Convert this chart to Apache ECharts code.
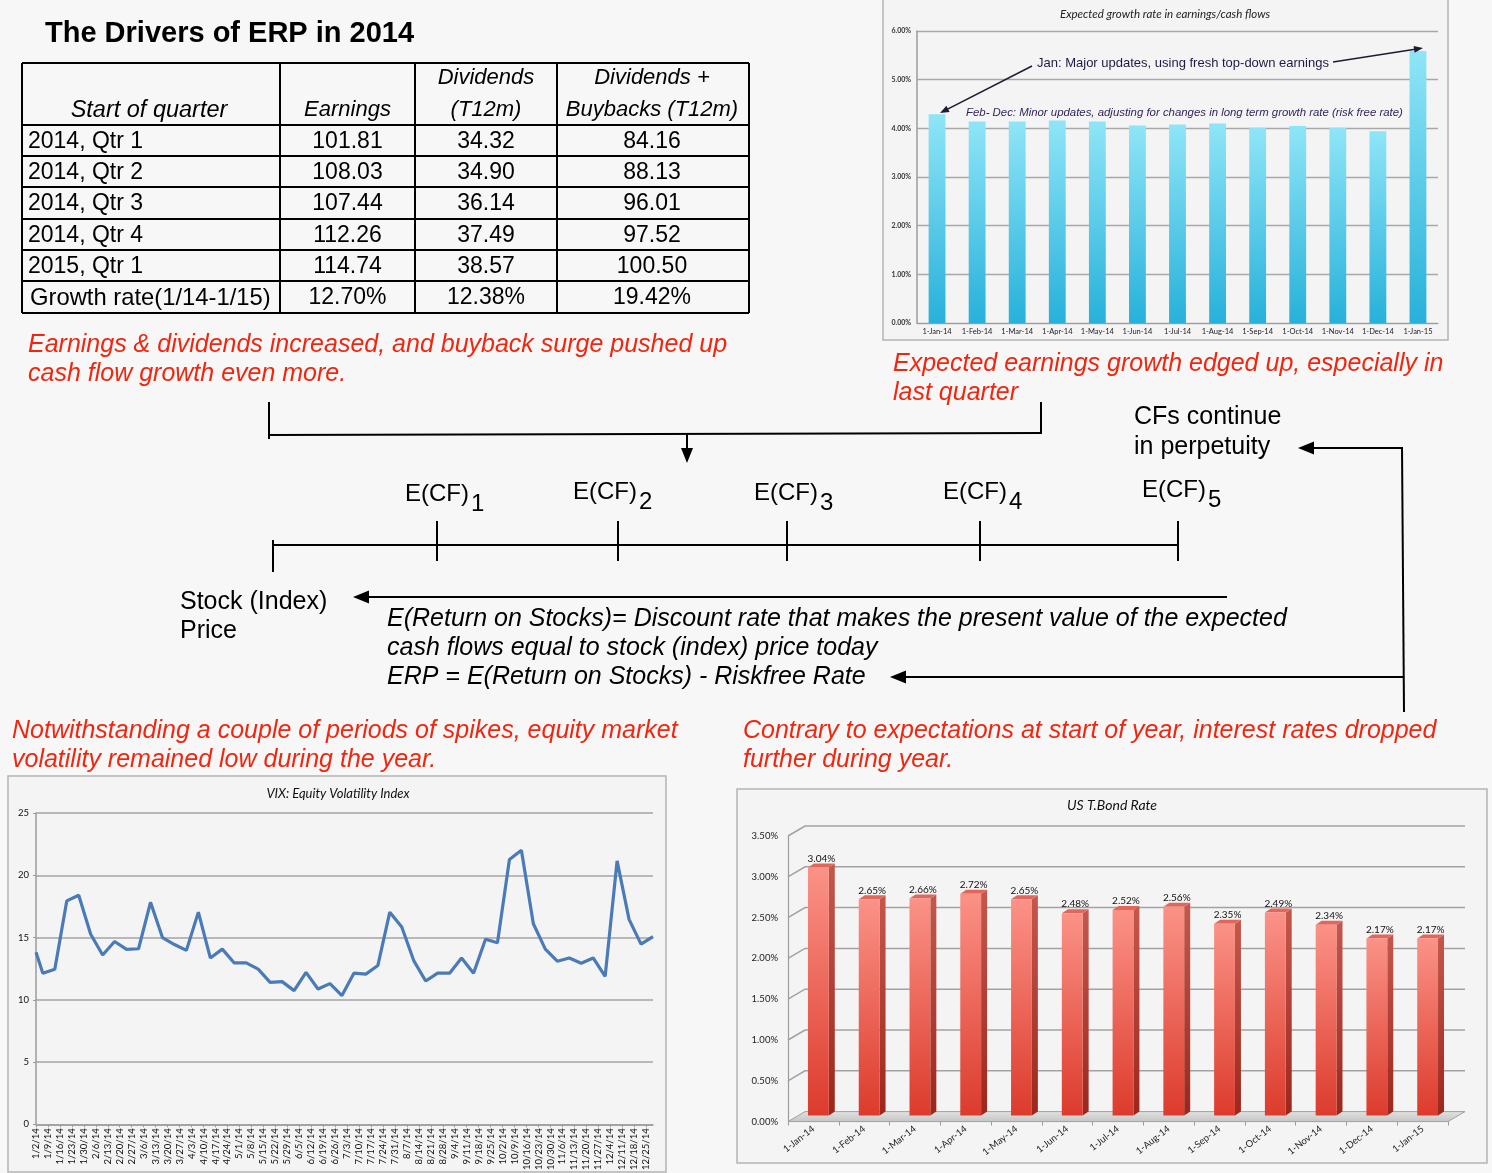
<!DOCTYPE html>
<html><head><meta charset="utf-8">
<script src="https://cdn.jsdelivr.net/npm/echarts@6/dist/echarts.min.js"></script>
<style>html,body{margin:0;padding:0;background:#f7f7f7}#c{width:1492px;height:1173px}</style>
</head><body><div id="c"></div>
<script>
// ---------------- DATA ----------------
const tableTitle = 'The Drivers of ERP in 2014';
const tableHeader = [['Start of quarter'], ['Earnings'], ['Dividends', '(T12m)'], ['Dividends +', 'Buybacks (T12m)']];
const quarters = ['2014, Qtr 1', '2014, Qtr 2', '2014, Qtr 3', '2014, Qtr 4', '2015, Qtr 1'];
const earnings = [101.81, 108.03, 107.44, 112.26, 114.74];
const dividends = [34.32, 34.90, 36.14, 37.49, 38.57];
const divBuybacks = [84.16, 88.13, 96.01, 97.52, 100.50];
const growthRowLabel = 'Growth rate(1/14-1/15)';

const growthMonths = ['1-Jan-14','1-Feb-14','1-Mar-14','1-Apr-14','1-May-14','1-Jun-14','1-Jul-14','1-Aug-14','1-Sep-14','1-Oct-14','1-Nov-14','1-Dec-14','1-Jan-15'];
const growthRates = [4.29, 4.14, 4.14, 4.16, 4.14, 4.06, 4.08, 4.10, 4.01, 4.05, 4.01, 3.94, 5.59];

const vixDates = ['2014-01-02','2014-01-06','2014-01-13','2014-01-20','2014-01-27','2014-02-03','2014-02-10','2014-02-17','2014-02-24',
  '2014-03-03','2014-03-10','2014-03-17','2014-03-24','2014-03-31','2014-04-07','2014-04-14','2014-04-21','2014-04-28',
  '2014-05-05','2014-05-12','2014-05-19','2014-05-26','2014-06-02','2014-06-09','2014-06-16','2014-06-23','2014-06-30',
  '2014-07-07','2014-07-14','2014-07-21','2014-07-28','2014-08-04','2014-08-11','2014-08-18','2014-08-25',
  '2014-09-01','2014-09-08','2014-09-15','2014-09-22','2014-09-29','2014-10-06','2014-10-13','2014-10-20','2014-10-27',
  '2014-11-03','2014-11-10','2014-11-17','2014-11-24','2014-12-01','2014-12-08','2014-12-15','2014-12-22','2014-12-29'];
const vixValues = [13.81, 12.14, 12.46, 17.94, 18.39, 15.26, 13.60, 14.68, 14.05,
  14.10, 17.83, 15.00, 14.44, 13.97, 17.04, 13.36, 14.07, 12.96,
  12.96, 12.46, 11.40, 11.46, 10.74, 12.20, 10.87, 11.30, 10.34,
  12.14, 12.06, 12.75, 17.04, 15.85, 13.15, 11.51, 12.14,
  12.14, 13.36, 12.14, 14.87, 14.58, 21.27, 22.01, 16.11, 14.07,
  13.10, 13.36, 12.94, 13.36, 11.88, 21.16, 16.46, 14.47, 15.08];

const bondMonths = ['1-Jan-14','1-Feb-14','1-Mar-14','1-Apr-14','1-May-14','1-Jun-14','1-Jul-14','1-Aug-14','1-Sep-14','1-Oct-14','1-Nov-14','1-Dec-14','1-Jan-15'];
const bondRates = [3.04, 2.65, 2.66, 2.72, 2.65, 2.48, 2.52, 2.56, 2.35, 2.49, 2.34, 2.17, 2.17];
const bondTicks = [0, 0.5, 1, 1.5, 2, 2.5, 3, 3.5];

// ---------------- HELPERS ----------------
const SANS = '"Liberation Sans", Arial, sans-serif';
const XL = 'Lato, "Liberation Sans", sans-serif';
const RED = '#f3250e';
const BASE = Date.UTC(2014, 0, 2);
function dayOf(s) { const p = s.split('-').map(Number); return Math.round((Date.UTC(p[0], p[1] - 1, p[2]) - BASE) / 864e5); }
function dayLabel(v) { const d = new Date(BASE + v * 864e5); return (d.getUTCMonth() + 1) + '/' + d.getUTCDate() + '/' + String(d.getUTCFullYear()).slice(2); }
function pct(v) { return v.toFixed(2) + '%'; }

function T(text, x, y, font, opt) {
  const st = Object.assign({ text: text, x: x, y: y, font: font, fill: '#000',
    textAlign: 'left', align: 'left', textVerticalAlign: 'middle', verticalAlign: 'middle' }, opt || {});
  if (opt && opt.textAlign) st.align = opt.textAlign;
  return { type: 'text', z: 100, style: st };
}
function L(x1, y1, x2, y2, w, c) {
  return { type: 'line', z: 100, shape: { x1: x1, y1: y1, x2: x2, y2: y2 }, style: { stroke: c || '#000', lineWidth: w || 2 } };
}
function arrow(x1, y1, x2, y2, len, wid, lw, color) {
  const dx = x2 - x1, dy = y2 - y1, d = Math.hypot(dx, dy), ux = dx / d, uy = dy / d;
  const bx = x2 - ux * len, by = y2 - uy * len, px = -uy * wid / 2, py = ux * wid / 2;
  return [
    { type: 'line', z: 100, shape: { x1: x1, y1: y1, x2: bx + ux, y2: by + uy }, style: { stroke: color, lineWidth: lw } },
    { type: 'polygon', z: 100, shape: { points: [[x2, y2], [bx + px, by + py], [bx - px, by - py]] }, style: { fill: color } }
  ];
}
function box(x, y, w, h) {
  return { type: 'rect', z: -5, shape: { x: x, y: y, width: w, height: h }, style: { fill: '#f4f4f4', stroke: '#b4b4b4', lineWidth: 1.5 } };
}

// ---------------- GRAPHICS (table, texts, diagram) ----------------
const G = [];
G.push(box(883, -2, 565, 342), box(8, 776, 658, 396), box(737, 789, 750, 374));
G.push(T(tableTitle, 45, 34, 'bold 29px ' + SANS));

// table
const rowY = [63, 125, 156, 187, 219, 250, 281, 313];
const colX = [22, 280, 415, 557, 749];
rowY.forEach(y => G.push(L(22, y, 749, y, 2)));
colX.forEach(x => G.push(L(x, 63, x, 313, 2)));
const colC = [149, 347.5, 486, 652];
const hdrSize = [23.5, 22, 22, 22];
tableHeader.forEach((lines, i) => {
  const ys = lines.length === 1 ? [110] : [78, 110];
  lines.forEach((t, j) => G.push(T(t, colC[i], ys[j], 'italic ' + hdrSize[i] + 'px ' + SANS, { textAlign: 'center' })));
});
const rowsText = quarters.map((q, i) => [q, earnings[i].toFixed(2), dividends[i].toFixed(2), divBuybacks[i].toFixed(2)]);
const g = a => pct((a[a.length - 1] / a[0] - 1) * 100);
rowsText.push([growthRowLabel, g(earnings), g(dividends), g(divBuybacks)]);
rowsText.forEach((r, i) => {
  const y = (rowY[i + 1] + rowY[i + 2]) / 2 + 1;
  G.push(T(r[0], i === 5 ? 30 : 28, y, (i === 5 ? 23.8 : 23) + 'px ' + SANS));
  for (let k = 1; k < 4; k++) G.push(T(r[k], colC[k], y, '23px ' + SANS, { textAlign: 'center' }));
});

// red commentary
const RF = 'italic 25px ' + SANS;
G.push(T('Earnings & dividends increased, and buyback surge pushed up', 28, 345, RF, { fill: RED }));
G.push(T('cash flow growth even more.', 28, 374, RF, { fill: RED }));
G.push(T('Expected earnings growth edged up, especially in', 893, 364, RF, { fill: RED }));
G.push(T('last quarter', 893, 393, RF, { fill: RED }));
G.push(T('Notwithstanding a couple of periods of spikes, equity market', 12, 731, RF, { fill: RED }));
G.push(T('volatility remained low during the year.', 12, 760, RF, { fill: RED }));
G.push(T('Contrary to expectations at start of year, interest rates dropped', 743, 731, RF, { fill: RED }));
G.push(T('further during year.', 743, 760, RF, { fill: RED }));

// bracket + arrows
G.push(L(269, 402, 269, 439, 2), L(269, 435, 1041, 433, 2), L(1041, 402, 1041, 434, 2));
G.push(...arrow(687, 434, 687, 463, 15, 12, 2, '#000'));
G.push(T('CFs continue', 1134, 417, '25px ' + SANS));
G.push(T('in perpetuity', 1134, 447, '25px ' + SANS));
G.push(...arrow(1402, 448, 1298, 448, 16, 13, 2, '#000'));
G.push(L(1402, 447, 1404, 712, 2));
G.push(...arrow(1404, 677, 890, 677, 16, 13, 2, '#000'));

// timeline
G.push(L(273, 545, 1179, 545, 2), L(273, 540, 273, 572, 2));
[437, 618, 787, 980, 1178].forEach(x => G.push(L(x, 521, x, 561, 2)));
const cfX = [405, 573, 754, 943, 1142], cfY = [494, 492, 493, 492, 490];
cfX.forEach((x, i) => {
  G.push(T('E(CF)', x, cfY[i], '24px ' + SANS));
  G.push(T(String(i + 1), x + 66, cfY[i] + 10, '24px ' + SANS));
});
G.push(T('Stock (Index)', 180, 602, '25px ' + SANS));
G.push(T('Price', 180, 631, '25px ' + SANS));
G.push(...arrow(1227, 597, 353, 597, 16, 13, 2, '#000'));
const IF = 'italic 25px ' + SANS;
G.push(T('E(Return on Stocks)= Discount rate that makes the present value of the expected', 387, 619, IF));
G.push(T('cash flows equal to stock (index) price today', 387, 648, IF));
G.push(T('ERP = E(Return on Stocks) - Riskfree Rate', 387, 677, IF));

// chart titles & annotations
G.push(T('Expected growth rate in earnings/cash flows', 1165, 14, 'italic 11.5px ' + XL, { textAlign: 'center', fill: '#222' }));
G.push(T('Jan: Major updates, using fresh top-down earnings', 1037, 63, '13px ' + SANS, { fill: '#1c1c44' }));
G.push(...arrow(1032, 66, 940, 113, 9, 7, 1.5, '#1c1c30'));
G.push(...arrow(1333, 62, 1423, 48, 9, 7, 1.5, '#1c1c30'));
G.push(T('Feb- Dec: Minor updates, adjusting for changes in long term growth rate (risk free rate)', 966, 113, 'italic 11.4px ' + SANS, { fill: '#34235c' }));
G.push(T('VIX: Equity Volatility Index', 338, 794, 'italic 13px ' + XL, { textAlign: 'center', fill: '#111' }));
G.push(T('US T.Bond Rate', 1112, 805, 'italic 14px ' + XL, { textAlign: 'center', fill: '#111' }));

// ---------------- 3D bond bars ----------------
const DX = 17, DY = 10;
function renderWall(params, api) {
  const cs = params.coordSys;
  const v = api.value(1);
  const y = api.coord([0, v])[1];
  const x0 = cs.x, x1 = cs.x + cs.width;
  if (v === 0) {
    return { type: 'group', children: [
      { type: 'polygon', shape: { points: [[x0, y], [x0 + DX, y - DY], [x1 + DX, y - DY], [x1, y]] },
        style: { fill: new echarts.graphic.LinearGradient(0, 0, 0, 1, [{ offset: 0, color: '#e2e2e2' }, { offset: 1, color: '#c4c4c4' }]), stroke: '#a0a0a0', lineWidth: 1 } }
    ] };
  }
  return { type: 'polyline', shape: { points: [[x0, y], [x0 + DX, y - DY], [x1 + DX, y - DY]] },
    style: { stroke: '#a2a2a2', lineWidth: 1.5, fill: 'none' } };
}
function renderBar(params, api) {
  const idx = api.value(0), v = api.value(1);
  const top = api.coord([idx, v]), base = api.coord([idx, 0]);
  const bw = api.size([1, 0])[0] * 0.41;
  const sx = 5, sy = -6, dx = 6, dy = 4;
  const x0 = top[0] - bw / 2 + sx, x1 = x0 + bw;
  const yT = top[1] + sy, yB = base[1] + sy;
  return { type: 'group', children: [
    { type: 'polygon', shape: { points: [[x1, yT], [x1 + dx, yT - dy], [x1 + dx, yB - dy], [x1, yB]] },
      style: { fill: new echarts.graphic.LinearGradient(0, 0, 0, 1, [{ offset: 0, color: '#c4584d' }, { offset: 1, color: '#9b271c' }]) } },
    { type: 'polygon', shape: { points: [[x0, yT], [x0 + dx, yT - dy], [x1 + dx, yT - dy], [x1, yT]] },
      style: { fill: '#e2675a' } },
    { type: 'rect', shape: { x: x0, y: yT, width: bw, height: yB - yT },
      style: { fill: new echarts.graphic.LinearGradient(0, 0, 0, 1, [{ offset: 0, color: '#fb9287' }, { offset: 1, color: '#dc3b2c' }]) } },
    { type: 'text', style: { text: pct(v), x: (x0 + x1 + dx) / 2, y: yT - dy, font: '10px ' + XL, fill: '#111',
      textAlign: 'center', align: 'center', textVerticalAlign: 'bottom', verticalAlign: 'bottom' } }
  ] };
}

// ---------------- OPTION ----------------
const axisGray = '#9c9c9c';
const option = {
  backgroundColor: '#f7f7f7',
  animation: false,
  textStyle: { fontFamily: XL },
  grid: [
    { left: 917, top: 31, width: 521, height: 292 },
    { left: 36, top: 813, width: 617, height: 315 },
    { left: 788, top: 836, width: 660, height: 285.6 }
  ],
  xAxis: [
    { type: 'category', gridIndex: 0, data: growthMonths, axisLine: { lineStyle: { color: axisGray } }, axisTick: { show: false },
      axisLabel: { fontSize: 7.5, color: '#222', margin: 5, interval: 0 } },
    { type: 'value', gridIndex: 1, min: 0, max: 361, interval: 7, splitLine: { show: false },
      axisLine: { show: true, lineStyle: { color: axisGray, width: 1.5 } }, axisTick: { show: true, length: 3, lineStyle: { color: axisGray } },
      axisLabel: { rotate: 90, fontSize: 9.5, margin: 4, color: '#111', showMaxLabel: false, showMinLabel: true, formatter: dayLabel } },
    { type: 'category', gridIndex: 2, data: bondMonths, axisLine: { show: false },
      axisTick: { show: true, length: 4, lineStyle: { color: axisGray } },
      axisLabel: { rotate: 38, fontSize: 9.5, margin: 6, interval: 0, color: '#222' } }
  ],
  yAxis: [
    { type: 'value', gridIndex: 0, min: 0, max: 6, interval: 1,
      axisLine: { show: true, lineStyle: { color: axisGray, width: 1.5 } }, axisTick: { show: false },
      splitLine: { lineStyle: { color: '#a8a8a8', width: 1.3 } },
      axisLabel: { fontSize: 7, fontWeight: 'bold', color: '#333', margin: 6, formatter: pct } },
    { type: 'value', gridIndex: 1, min: 0, max: 25, interval: 5,
      axisLine: { show: true, lineStyle: { color: axisGray, width: 1.5 } }, axisTick: { show: true, length: 3, lineStyle: { color: axisGray } },
      splitLine: { lineStyle: { color: '#a4a4a4', width: 1.5 } },
      axisLabel: { fontSize: 9.5, color: '#111', margin: 7 } },
    { type: 'value', gridIndex: 2, min: 0, max: 3.5, interval: 0.5,
      axisLine: { show: true, lineStyle: { color: axisGray, width: 1.2 } }, axisTick: { show: false }, splitLine: { show: false },
      axisLabel: { fontSize: 9.5, color: '#222', margin: 10, formatter: pct } }
  ],
  series: [
    { type: 'bar', xAxisIndex: 0, yAxisIndex: 0, data: growthRates, barWidth: '42%',
      itemStyle: { color: new echarts.graphic.LinearGradient(0, 0, 0, 1, [{ offset: 0, color: '#8fe5f7' }, { offset: 1, color: '#27b1da' }]) } },
    { type: 'line', xAxisIndex: 1, yAxisIndex: 1, symbol: 'none',
      data: vixDates.map((d, i) => [dayOf(d), vixValues[i]]),
      lineStyle: { color: '#4a7bb7', width: 3.2 } },
    { type: 'custom', xAxisIndex: 2, yAxisIndex: 2, z: 1, renderItem: renderWall,
      data: bondTicks.map(v => [0, v]) },
    { type: 'custom', xAxisIndex: 2, yAxisIndex: 2, z: 3, renderItem: renderBar,
      data: bondRates.map((v, i) => [i, v]) }
  ],
  graphic: { elements: G }
};
const chart = echarts.init(document.getElementById('c'));
chart.setOption(option);
</script></body></html>
